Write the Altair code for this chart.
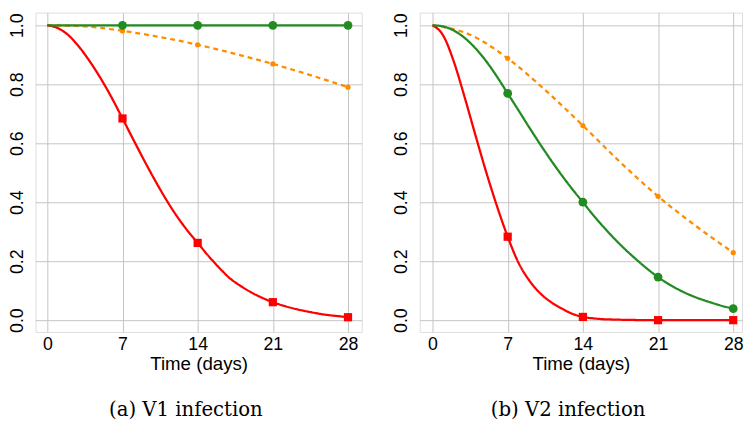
import altair as alt
import pandas as pd

# ---------------- data ----------------
marker_days = [7, 14, 21, 28]

# Panel (a): V1 infection
v1_red_days = list(range(29))
v1_red = [1.0, 0.99, 0.965, 0.925, 0.875, 0.818, 0.754, 0.684, 0.613, 0.543, 0.476,
          0.413, 0.356, 0.306, 0.262, 0.218, 0.178, 0.142, 0.116, 0.094, 0.076,
          0.061, 0.049, 0.039, 0.031, 0.024, 0.018, 0.014, 0.01]
v1_green_days = [0, 7, 14, 21, 28]
v1_green = [1.0, 1.0, 1.0, 1.0, 1.0]
v1_orange_days = [0, 3.5, 7, 10.5, 14, 17.5, 21, 24.5, 28]
v1_orange = [1.0, 0.996, 0.981, 0.96, 0.934, 0.903, 0.869, 0.831, 0.79]

# Panel (b): V2 infection
v2_red_days = list(range(29))
v2_red = [1.0, 0.965, 0.875, 0.755, 0.627, 0.502, 0.387, 0.283, 0.195, 0.135, 0.092,
          0.062, 0.040, 0.022, 0.011, 0.006, 0.003, 0.002, 0.001, 0.0005, 0.0,
          0.0, 0.0, 0.0, 0.0, 0.0, 0.0, 0.0, 0.0]
v2_green_days = list(range(29))
v2_green = [1.0, 0.996, 0.982, 0.957, 0.922, 0.878, 0.826, 0.769, 0.712, 0.654, 0.598,
            0.544, 0.493, 0.445, 0.400, 0.355, 0.313, 0.274, 0.238, 0.205, 0.174,
            0.146, 0.122, 0.102, 0.085, 0.071, 0.059, 0.048, 0.039]
v2_orange_days = [0, 3.5, 7, 10.5, 14, 17.5, 21, 24.5, 28]
v2_orange = [1.0, 0.968, 0.888, 0.78, 0.66, 0.535, 0.42, 0.32, 0.229]

x_ticks = [0, 7, 14, 21, 28]
y_ticks = [0.0, 0.2, 0.4, 0.6, 0.8, 1.0]

RED = "#ff0000"
GREEN = "#228b22"
ORANGE = "#ff8c00"

styles = {
    "red": dict(color=RED, shape="square", size=70, dash=[1, 0]),
    "green": dict(color=GREEN, shape="circle", size=80, dash=[1, 0]),
    "orange": dict(color=ORANGE, shape="circle", size=28, dash=[5, 4]),
}


def make_df(parts):
    rows = []
    for name, ds, vs in parts:
        for d, v in zip(ds, vs):
            rows.append({"day": d, "value": v, "series": name})
    return pd.DataFrame(rows)


AX_FONT = "Liberation Sans"

xax = alt.Axis(values=x_ticks, grid=True, gridColor="#c4c4c4", domain=False,
               ticks=False, labelFontSize=18, labelFont=AX_FONT, labelColor="black",
               labelPadding=4, title="Time (days)", titleFontSize=19,
               titleFont=AX_FONT, titleFontWeight="normal", titleColor="black",
               titlePadding=1)
yax = alt.Axis(values=y_ticks, format=".1f", grid=True, gridColor="#c4c4c4",
               domain=False, ticks=False, labelFontSize=18, labelFont=AX_FONT,
               labelColor="black", labelAngle=270, labelAlign="center",
               labelBaseline="bottom", labelPadding=9, title=None)


def panel(df, caption, xdom, width):
    xs = alt.Scale(domain=xdom, nice=False, zero=False)
    ys = alt.Scale(domain=[-0.04, 1.043], nice=False, zero=False)
    enc_x = alt.X("day:Q", scale=xs, axis=xax)
    enc_y = alt.Y("value:Q", scale=ys, axis=yax)
    base = alt.Chart(df)
    layers = []
    order = ["orange", "red", "green"]
    for s in order:
        st = styles[s]
        sub = base.transform_filter(alt.datum.series == s)
        line = sub.mark_line(color=st["color"], strokeWidth=2.3,
                             strokeDash=st["dash"], interpolate="monotone").encode(
            x=enc_x, y=enc_y)
        pts = sub.transform_filter(
            alt.FieldOneOfPredicate(field="day", oneOf=marker_days)
        ).mark_point(shape=st["shape"], filled=True, size=st["size"],
                     color=st["color"], opacity=1).encode(x=enc_x, y=enc_y)
        layers += [line, pts]
    return alt.layer(*layers).properties(
        width=width, height=325,
        title=alt.TitleParams(caption, orient="bottom", font="DejaVu Serif",
                              fontSize=20, fontWeight="normal", color="black",
                              offset=28, dx=-13, anchor="middle"))


df1 = make_df([("red", v1_red_days, v1_red), ("green", v1_green_days, v1_green),
               ("orange", v1_orange_days, v1_orange)])
df2 = make_df([("red", v2_red_days, v2_red), ("green", v2_green_days, v2_green),
               ("orange", v2_orange_days, v2_orange)])

left = panel(df1, "(a)  V1 infection", [-1.1, 29.28], 332)
right = panel(df2, "(b)  V2 infection", [-1.19, 28.82], 328)

chart = alt.hconcat(left, right, spacing=30).properties(padding=0).configure_view(
    stroke="#a8a8a8", strokeWidth=1.5).configure(background="white")

chart.save("out.html", embed_options={"renderer": "svg", "actions": False})
